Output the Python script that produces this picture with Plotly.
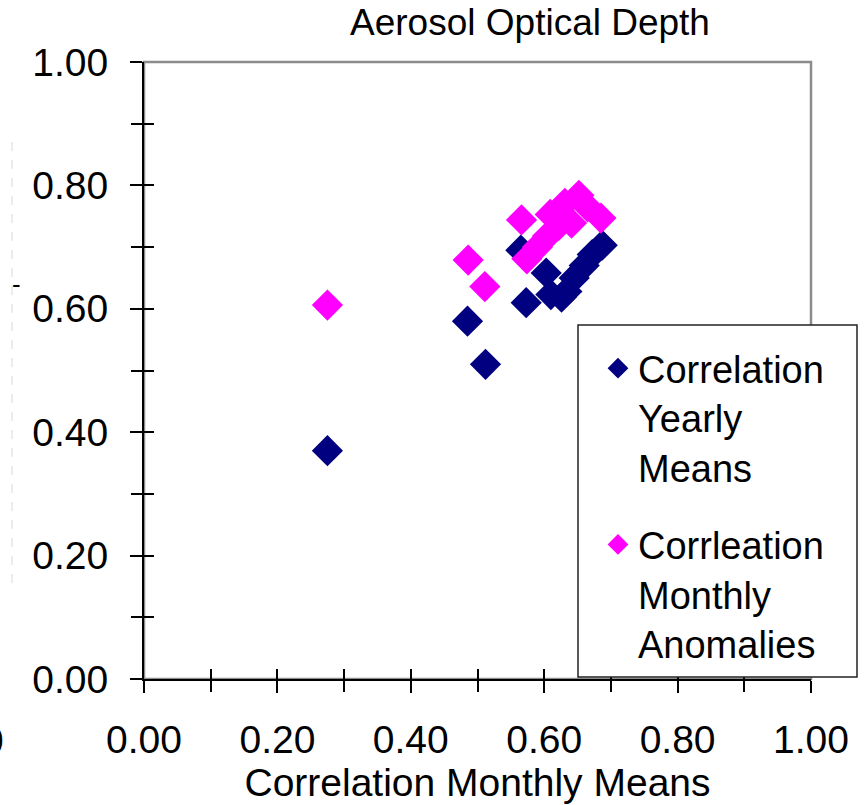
import plotly.graph_objects as go

# Correlation of aerosol optical depth: yearly means vs monthly anomalies,
# both plotted against the correlation of monthly means.
yearly_x = [0.275, 0.485, 0.512, 0.565, 0.573, 0.603, 0.610, 0.626, 0.634, 0.645, 0.660, 0.672, 0.687]
yearly_y = [0.370, 0.580, 0.510, 0.695, 0.610, 0.658, 0.623, 0.619, 0.628, 0.650, 0.670, 0.688, 0.703]

anomaly_x = [0.275, 0.486, 0.511, 0.566, 0.574, 0.590, 0.605, 0.609, 0.622, 0.631, 0.641, 0.652, 0.665, 0.685]
anomaly_y = [0.606, 0.679, 0.636, 0.744, 0.681, 0.700, 0.718, 0.753, 0.735, 0.771, 0.739, 0.784, 0.765, 0.747]

major_ticks = [0.0, 0.2, 0.4, 0.6, 0.8, 1.0]
minor_ticks = [0.1, 0.3, 0.5, 0.7, 0.9]
tick_labels = [f"{v:.2f}" for v in major_ticks]

FONT = "Liberation Sans, Arial, sans-serif"
W, H = 865, 805
L, R, T, B = 144, 54, 62, 126
PW, PH = W - L - R, H - T - B


def px_x(p):
    return (p - L) / PW


def px_y(p):
    return (H - B - p) / PH


fig = go.Figure()
fig.add_trace(go.Scatter(
    x=yearly_x, y=yearly_y, mode="markers", name="Correlation<br>Yearly<br>Means",
    legendgroup="a",
    marker=dict(symbol="diamond", size=24, color="#000080", line=dict(width=0)),
))
fig.add_trace(go.Scatter(
    x=anomaly_x, y=anomaly_y, mode="markers", name="Corrleation<br>Monthly<br>Anomalies",
    legendgroup="b",
    marker=dict(symbol="diamond", size=24, color="#FF00FF", line=dict(width=0)),
))
# empty trace so the overlay axes (inner halves of the tick marks) are drawn
fig.add_trace(go.Scatter(x=[], y=[], xaxis="x2", yaxis="y2", showlegend=False, hoverinfo="skip"))

axis_common = dict(
    range=[0, 1], tickvals=major_ticks, ticktext=tick_labels,
    showgrid=False, zeroline=False, automargin=False,
    showline=True, linecolor="black", linewidth=2,
    ticks="outside", ticklen=12, tickwidth=1.5, tickcolor="black",
    minor=dict(tickvals=minor_ticks, ticks="outside", ticklen=11, tickwidth=1.5, tickcolor="black"),
    tickfont=dict(family=FONT, size=39, color="black"),
)
inner_common = dict(
    range=[0, 1], tickvals=major_ticks, showticklabels=False,
    showgrid=False, zeroline=False, showline=False, automargin=False,
    ticks="inside", ticklen=10, tickwidth=1.5, tickcolor="black",
    minor=dict(tickvals=minor_ticks, ticks="inside", ticklen=10, tickwidth=1.5, tickcolor="black"),
)

fig.update_layout(
    width=W, height=H,
    margin=dict(l=L, r=R, t=T, b=B),
    paper_bgcolor="white", plot_bgcolor="white",
    font=dict(family=FONT, color="black"),
    xaxis=dict(**axis_common, ticklabelstandoff=13,
               title=dict(text="Correlation Monthly Means", standoff=0,
                          font=dict(family=FONT, size=39, color="black"))),
    yaxis=dict(**axis_common, ticklabelstandoff=14),
    xaxis2=dict(**inner_common, overlaying="x", anchor="y", side="bottom"),
    yaxis2=dict(**inner_common, overlaying="y", anchor="x", side="left"),
    title=dict(text="Aerosol Optical Depth", x=px_x(530), xanchor="center",
               y=1 - 22 / H, yanchor="middle", xref="paper", yref="container",
               font=dict(family=FONT, size=37, color="black")),
    showlegend=True,
    legend=dict(
        x=px_x(598), y=px_y(337), xanchor="left", yanchor="top",
        bgcolor="rgba(0,0,0,0)", borderwidth=0,
        font=dict(family=FONT, size=38, color="black"),
        valign="top", tracegroupgap=25, traceorder="grouped",
    ),
    shapes=[
        # grey frame of the plotting area
        dict(type="rect", xref="paper", yref="paper", x0=0, x1=1, y0=0, y1=1,
             line=dict(color="#8c8c8c", width=2.5), layer="below"),
        # legend panel
        dict(type="rect", xref="paper", yref="paper",
             x0=px_x(578), x1=px_x(857), y0=px_y(677), y1=px_y(325),
             fillcolor="white", line=dict(color="#222222", width=1.5), layer="above"),
        # faint dashed guide at the left edge
        dict(type="line", xref="paper", yref="paper",
             x0=px_x(12), x1=px_x(12), y0=px_y(583), y1=px_y(140),
             line=dict(color="#d8d8d8", width=1, dash="dash")),
    ],
    annotations=[
        dict(text="0", xref="paper", yref="paper", x=px_x(6), y=px_y(740),
             xanchor="right", yanchor="middle", showarrow=False,
             font=dict(family=FONT, size=39, color="black")),
        dict(text="-", xref="paper", yref="paper", x=px_x(16), y=px_y(284),
             xanchor="center", yanchor="middle", showarrow=False,
             font=dict(family=FONT, size=26, color="black")),
    ],
)

fig.write_html("out.html")
